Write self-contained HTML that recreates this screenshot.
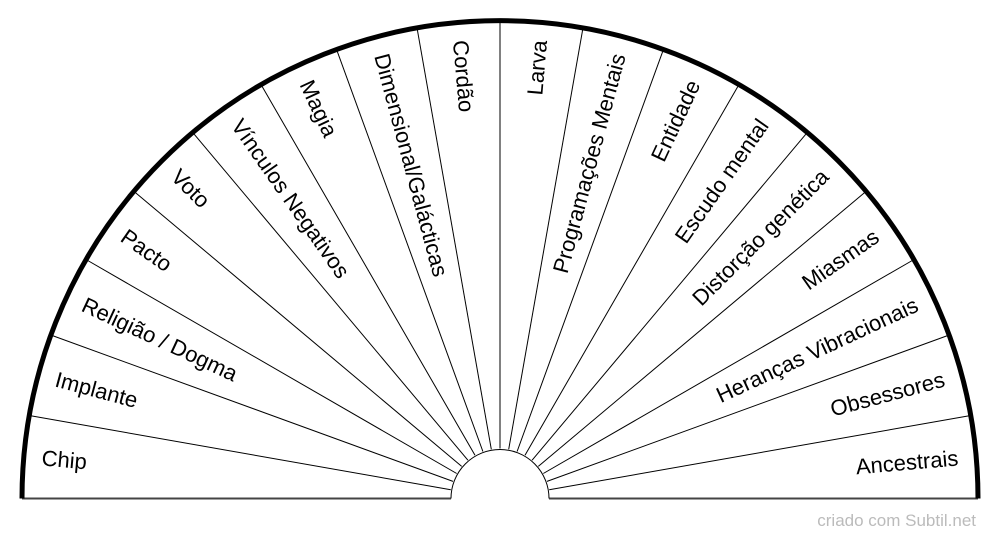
<!DOCTYPE html>
<html><head><meta charset="utf-8"><style>
html,body{margin:0;padding:0;background:#fff;}
svg{display:block;}
text{font-family:"Liberation Sans",Arial,sans-serif;}
</style></head><body>
<svg width="1000" height="540" viewBox="0 0 1000 540" xmlns="http://www.w3.org/2000/svg">
<g stroke="#000" stroke-width="1" fill="none">
<line x1="549.2" y1="489.8" x2="970.7" y2="415.5"/>
<line x1="547.0" y1="481.4" x2="949.2" y2="335.0"/>
<line x1="543.3" y1="473.5" x2="914.0" y2="259.5"/>
<line x1="538.3" y1="466.4" x2="866.2" y2="191.2"/>
<line x1="532.1" y1="460.2" x2="807.3" y2="132.4"/>
<line x1="525.0" y1="455.2" x2="739.0" y2="84.5"/>
<line x1="517.1" y1="451.5" x2="663.5" y2="49.3"/>
<line x1="508.7" y1="449.3" x2="583.0" y2="27.8"/>
<line x1="500" y1="448.5" x2="500" y2="20.5"/>
<line x1="491.3" y1="449.3" x2="417.0" y2="27.8"/>
<line x1="482.9" y1="451.5" x2="336.5" y2="49.3"/>
<line x1="475.0" y1="455.2" x2="261.0" y2="84.5"/>
<line x1="467.9" y1="460.2" x2="192.7" y2="132.4"/>
<line x1="461.7" y1="466.4" x2="133.8" y2="191.2"/>
<line x1="456.7" y1="473.5" x2="86.0" y2="259.5"/>
<line x1="453.0" y1="481.4" x2="50.8" y2="335.0"/>
<line x1="450.8" y1="489.8" x2="29.3" y2="415.5"/>
<line x1="22" y1="498.5" x2="451" y2="498.5" stroke="#444" stroke-width="2"/>
<line x1="549" y1="498.5" x2="978" y2="498.5" stroke="#444" stroke-width="2"/>
<path d="M451 498.5 A49 49 0 0 1 549 498.5"/>
</g>
<path d="M22 498.5 A478 478 0 0 1 978 498.5" fill="none" stroke="#000" stroke-width="5"/>
<g font-size="22" fill="#000">
<g transform="translate(500,498.5) rotate(-175) translate(460,0) rotate(180)"><text x="0" y="7">Chip</text></g>
<g transform="translate(500,498.5) rotate(-165) translate(460,0) rotate(180)"><text x="0" y="7">Implante</text></g>
<g transform="translate(500,498.5) rotate(-155) translate(460,0) rotate(180)"><text x="0" y="7">Religião / Dogma</text></g>
<g transform="translate(500,498.5) rotate(-145) translate(460,0) rotate(180)"><text x="0" y="7">Pacto</text></g>
<g transform="translate(500,498.5) rotate(-135) translate(460,0) rotate(180)"><text x="0" y="7">Voto</text></g>
<g transform="translate(500,498.5) rotate(-125) translate(460,0) rotate(180)"><text x="0" y="7">Vínculos Negativos</text></g>
<g transform="translate(500,498.5) rotate(-115) translate(460,0) rotate(180)"><text x="0" y="7">Magia</text></g>
<g transform="translate(500,498.5) rotate(-105) translate(460,0) rotate(180)"><text x="0" y="7">Dimensional/Galácticas</text></g>
<g transform="translate(500,498.5) rotate(-95) translate(460,0) rotate(180)"><text x="0" y="7">Cordão</text></g>
<g transform="translate(500,498.5) rotate(-85) translate(460,0)"><text x="0" y="7" text-anchor="end">Larva</text></g>
<g transform="translate(500,498.5) rotate(-75) translate(460,0)"><text x="0" y="7" text-anchor="end">Programações Mentais</text></g>
<g transform="translate(500,498.5) rotate(-65) translate(460,0)"><text x="0" y="7" text-anchor="end">Entidade</text></g>
<g transform="translate(500,498.5) rotate(-55) translate(460,0)"><text x="0" y="7" text-anchor="end">Escudo mental</text></g>
<g transform="translate(500,498.5) rotate(-45) translate(460,0)"><text x="0" y="7" text-anchor="end">Distorção genética</text></g>
<g transform="translate(500,498.5) rotate(-35) translate(460,0)"><text x="0" y="7" text-anchor="end">Miasmas</text></g>
<g transform="translate(500,498.5) rotate(-25) translate(460,0)"><text x="0" y="7" text-anchor="end">Heranças Vibracionais</text></g>
<g transform="translate(500,498.5) rotate(-15) translate(460,0)"><text x="0" y="7" text-anchor="end">Obsessores</text></g>
<g transform="translate(500,498.5) rotate(-5) translate(460,0)"><text x="0" y="7" text-anchor="end">Ancestrais</text></g>
</g>
<text x="976" y="526" font-size="17" fill="#bbb" text-anchor="end">criado com Subtil.net</text>
</svg>
</body></html>
